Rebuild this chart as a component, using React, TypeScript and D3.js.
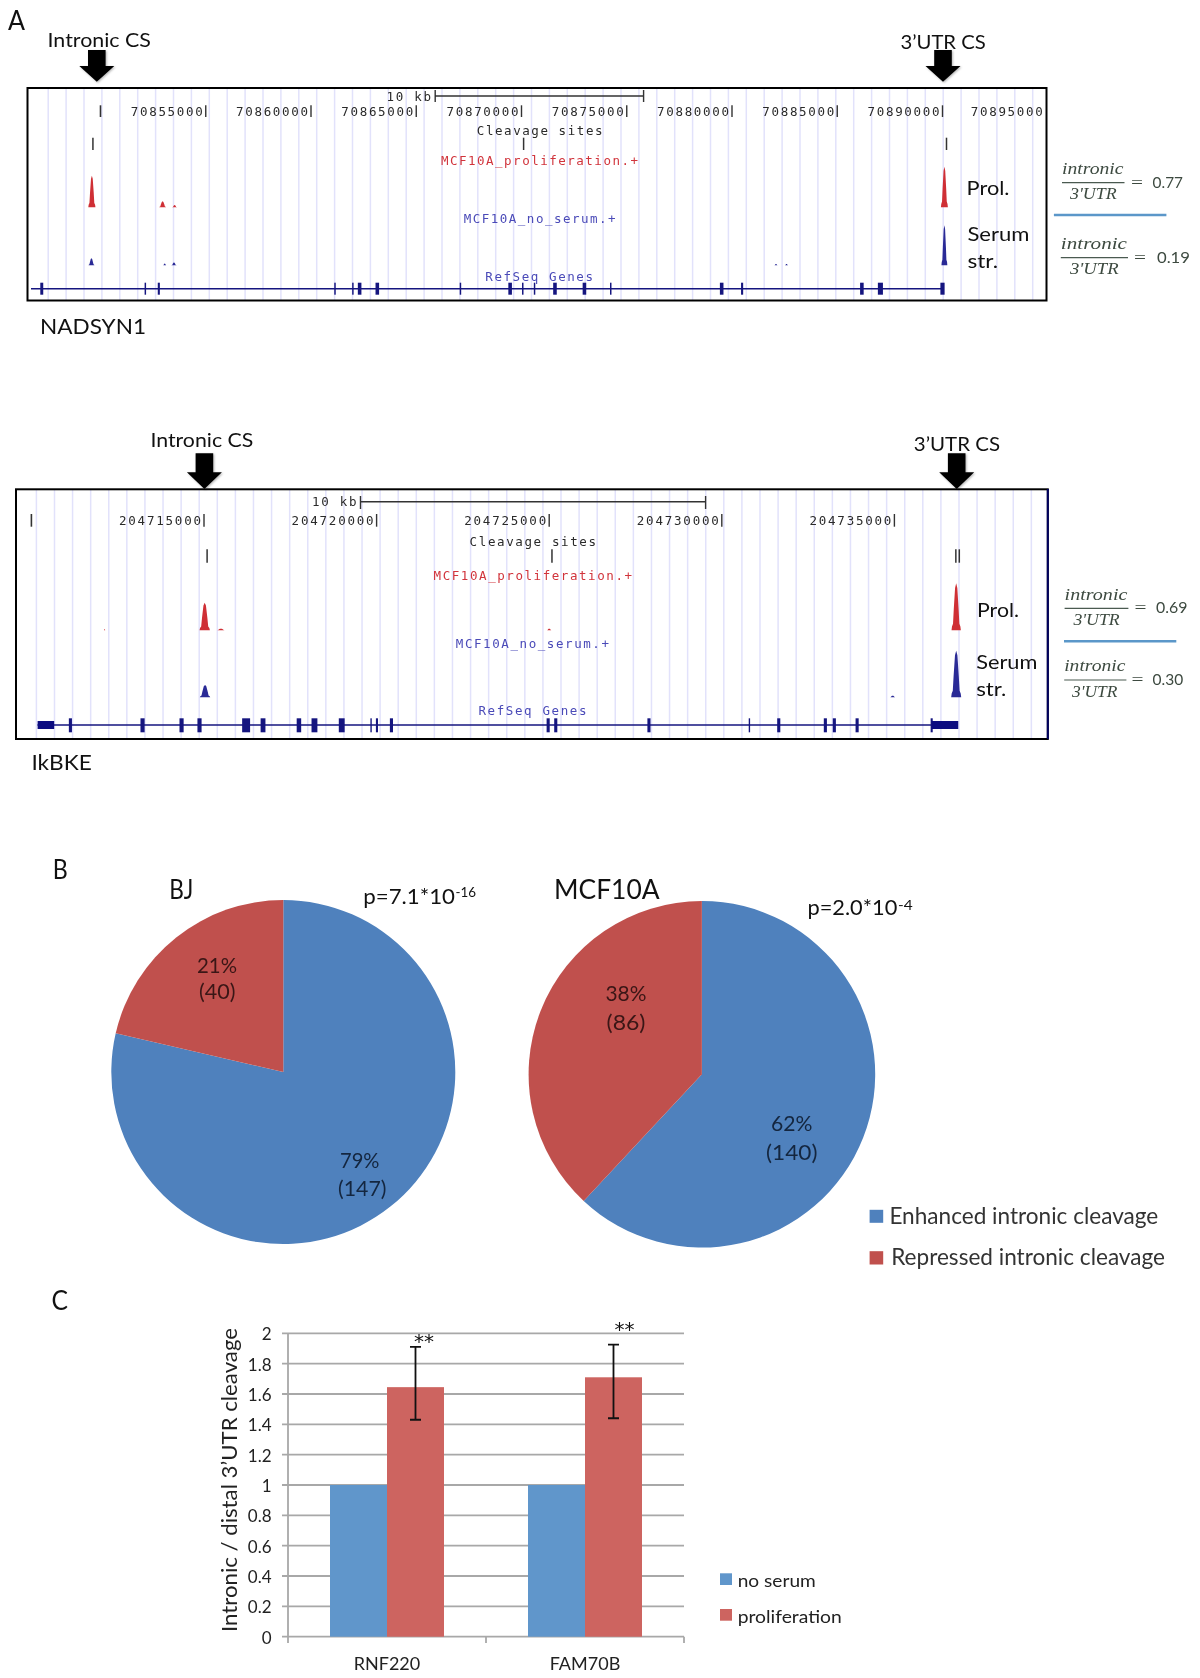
import React from "react";
import * as d3 from "d3";

// ---------- data: panel A (genomic offsets in kb from the first ruler tick) ----------
const nadBase = 70850000;
const nadTicks = [70855000, 70860000, 70865000, 70870000, 70875000, 70880000, 70885000, 70890000];
const nadLastLabel = 70895000;
const nadCleavage = [-0.36, 20.1, 40.19];
const nadExons: [number, number][] = [[-2.79, .14], [2.13, .07], [2.77, .1], [11.14, .07], [11.99, .07], [12.31, .17], [13.15, .17], [17.10, .07], [19.46, .17], [20.06, .07], [20.62, .07], [21.59, .17], [22.99, .17], [24.24, .07], [29.51, .17], [30.48, .1], [36.17, .17], [37.05, .24], [40.0, .2]];
const nadRed: [number, number, number][] = [[-0.41, 31.6, .34], [2.95, 6, .32], [3.52, 2.4, .22], [40.09, 40.6, .33]];
const nadBlue: [number, number, number][] = [[-0.43, 7, .28], [3.05, 1.8, .16], [3.49, 2.8, .24], [32.09, 1.4, .16], [32.59, 1.4, .16], [40.09, 40, .28]];

const ikkBase = 204710000;
const ikkTicks = [204715000, 204720000, 204725000, 204730000, 204735000];
const ikkCleavage = [5.09, 15.08, 26.78, 26.88];
const ikkExons: [number, number][] = [[1.13, .09], [3.22, .12], [4.35, .12], [4.87, .12], [6.22, .23], [6.71, .14], [7.75, .13], [8.20, .17], [8.99, .17], [9.84, .04], [10.01, .06], [10.43, .09], [14.97, .09], [15.19, .09], [17.89, .09], [20.80, .04], [21.65, .09], [23.0, .09], [23.26, .09], [23.92, .09], [26.08, .06]];
const ikkUtrs: [number, number][] = [[0.18, 0.66], [26.08, 26.85]];
const ikkRed: [number, number, number][] = [[5.02, 27.6, .3], [5.49, 1.6, .24], [2.12, 1.2, .05], [15.0, 1.6, .14], [26.79, 47, .27]];
const ikkBlue: [number, number, number][] = [[5.03, 12.3, .3], [24.95, 1.6, .16], [26.79, 46.6, .29]];
const peakProfile: [number, number][] = [[-.5, 0], [-.45, .08], [-.34, .14], [-.26, .45], [-.12, .9], [0, 1], [.12, .9], [.26, .45], [.34, .14], [.45, .08], [.5, 0]];

// ---------- data: panel B ----------
const pieLabels = ["Enhanced intronic cleavage", "Repressed intronic cleavage"];
const bjCounts = [147, 40];
const mcfCounts = [140, 86];

// ---------- data: panel C ----------
const genes = ["RNF220", "FAM70B"];
const conditions = ["no serum", "proliferation"];
const noSerum = [1, 1];
const proliferation = [1.645, 1.71];
const errLow = [1.43, 1.44];
const errHigh = [1.91, 1.925];
const yTickValues = [0, .2, .4, .6, .8, 1, 1.2, 1.4, 1.6, 1.8, 2];

// ---------- helpers ----------
const SANS = "Lato, 'Open Sans', sans-serif";
const MONO = "'DejaVu Sans Mono', monospace";
const SERIF = "'Liberation Serif', serif";
const GENE = "#15157f";

function T({ x1, x2, y, size = 20, fill = "#111", font = SANS, style, adj = "spacingAndGlyphs", children }: any) {
  return <text x={x1} y={y} fontFamily={font} fontSize={size} fill={fill} fontStyle={style}
    textLength={x2 - x1} lengthAdjust={adj}>{children}</text>;
}
function Mono({ x1, x2, cy, fill = "#2a2a2a", children }: any) {
  return <text x={x1} y={cy + 4.5} fontFamily={MONO} fontSize={12.5} fill={fill}
    textLength={x2 - x1} lengthAdjust="spacing">{children}</text>;
}
function Arrow({ cx, top, shoulder, tip }: any) {
  const pts: [number, number][] = [[cx - 8.8, top], [cx + 8.8, top], [cx + 8.8, shoulder], [cx + 17.5, shoulder], [cx, tip], [cx - 17.5, shoulder], [cx - 8.8, shoulder]];
  return <path d={d3.line()(pts) + "Z"} fill="#000" style={{ filter: "drop-shadow(1px 1px 1px rgba(0,0,0,.3))" }} />;
}
function Peaks({ data, x, base, fill }: any) {
  return <g>{data.map(([kb, h, w]: number[], i: number) => {
    const y = d3.scaleLinear().domain([0, 1]).range([base, base - h]);
    const xx = d3.scaleLinear().domain([-.5, .5]).range([x(kb - w / 2), x(kb + w / 2)]);
    const line = d3.line<[number, number]>().x(d => xx(d[0])).y(d => y(d[1]));
    return <path key={i} d={line(peakProfile) + "Z"} fill={fill} />;
  })}</g>;
}
function Fraction({ a, a2, la, b, b2, eqX, val, val2, y, children }: any) {
  const col = "#3d4a40";
  return <g>
    <T x1={a} x2={a2} y={y - 8.7} size={17} font={SERIF} style="italic" fill={col}>intronic</T>
    <line x1={la} x2={a2 + 1} y1={y} y2={y} stroke="#4a5a50" strokeWidth={1.2} />
    <T x1={b} x2={b2} y={y + 16.5} size={17} font={SERIF} style="italic" fill={col}>3'UTR</T>
    <T x1={eqX} x2={eqX + 12} y={y + 5} size={17} font={SERIF} fill={col}>=</T>
    <T x1={val} x2={val2} y={y + 5} size={16} fill={col}>{children}</T>
  </g>;
}

export default function App() {
  // Panel A, NADSYN1 browser view
  const nadX = d3.scaleLinear().domain([0, 45]).range([100.5, 1047.75]);
  const nadG = d3.range(56).map(i => 48.2 + i * 17.9);
  // Panel A, IkBKE browser view
  const ikkX = d3.scaleLinear().domain([0, 25]).range([31.4, 894.4]);
  const ikkG = d3.range(56).map(i => 36.4 + i * 18.09);

  // Panel B
  const pie = d3.pie<number>().sort(null).startAngle(0).endAngle(2 * Math.PI);
  const arc = d3.arc<d3.PieArcDatum<number>>().innerRadius(0).outerRadius(172);
  const pieColors = ["#4f81bd", "#c0504d"];

  // Panel C
  const y = d3.scaleLinear().domain([0, 2]).range([1636.7, 1333.3]);
  const x0 = d3.scaleBand().domain(genes).range([288, 684]);
  const x1 = d3.scaleBand().domain(conditions).range([0, x0.bandwidth()]).paddingInner(0).paddingOuter(.737);
  const barColors = ["#6096cb", "#cd6460"];

  return (
    <svg width={1200} height={1678} style={{ position: "absolute", left: 0, top: 0, background: "#fff" }}>
      <g style={{ filter: "blur(0.35px)" }}>
      <rect x={0} y={0} width={1200} height={1678} fill="#fff" />
      {/* ---------- A ---------- */}
      <T x1={8} x2={25} y={30} size={27}>A</T>

      {/* NADSYN1 */}
      <g>
        {nadG.map((g, i) => <line key={i} x1={g} x2={g} y1={89} y2={300} stroke="#e2e2fb" strokeWidth={1.5} />)}
        <line x1={nadX(0)} x2={nadX(0)} y1={105.3} y2={117} stroke="#333" strokeWidth={1.6} />
        {nadTicks.map(t => {
          const px = nadX((t - nadBase) / 1000);
          return <g key={t}>
            <line x1={px} x2={px} y1={105.3} y2={117} stroke="#333" strokeWidth={1.4} />
            <Mono x1={px - 75} x2={px - 3} cy={111.7}>{t}</Mono>
          </g>;
        })}
        <Mono x1={nadX((nadLastLabel - nadBase) / 1000) - 77} x2={nadX((nadLastLabel - nadBase) / 1000) - 5} cy={111.7}>{nadLastLabel}</Mono>
        <Mono x1={386.5} x2={431} cy={96}>10 kb</Mono>
        <path d={`M${nadX(15.9)},90V102M${nadX(15.9)},96H${nadX(25.8)}M${nadX(25.8)},90V102`} stroke="#333" strokeWidth={1.4} fill="none" />
        <Mono x1={476.8} x2={602.5} cy={130.7}>Cleavage sites</Mono>
        {nadCleavage.map(c => <line key={c} x1={nadX(c)} x2={nadX(c)} y1={137.7} y2={150} stroke="#333" strokeWidth={1.5} />)}
        <Mono x1={440.9} x2={638} cy={160.7} fill="#d1343c">MCF10A_proliferation.+</Mono>
        <Peaks data={nadRed} x={nadX} base={207.3} fill="#cf2f35" />
        <Mono x1={463.8} x2={615.5} cy={218.3} fill="#4a4ab8">MCF10A_no_serum.+</Mono>
        <Peaks data={nadBlue} x={nadX} base={265.3} fill="#2a2a96" />
        <Mono x1={485.3} x2={593} cy={276} fill="#4a4ab8">RefSeq Genes</Mono>
        <line x1={31} x2={943} y1={288.7} y2={288.7} stroke={GENE} strokeWidth={1.4} />
        {nadExons.map(([c, w], i) => <rect key={i} x={nadX(c - w / 2)} width={nadX(w) - nadX(0)} y={282.7} height={12} fill={GENE} />)}
        <rect x={27.5} y={88} width={1019} height={212.5} fill="none" stroke="#000" strokeWidth={2} />
      </g>
      <Arrow cx={96.8} top={50} shoulder={66} tip={81.7} />
      <Arrow cx={943} top={50} shoulder={66} tip={81.7} />
      <T x1={47.5} x2={151} y={46.7} size={20}>Intronic CS</T>
      <T x1={900.4} x2={985.8} y={49.3} size={20}>3’UTR CS</T>
      <T x1={40} x2={146} y={334} size={22}>NADSYN1</T>
      <T x1={966.6} x2={1009.5} y={195} size={20}>Prol.</T>
      <T x1={967.4} x2={1029.4} y={240.7} size={20}>Serum</T>
      <T x1={967.4} x2={998} y={267.7} size={20}>str.</T>
      <Fraction a={1062} a2={1123.5} la={1062} b={1070} b2={1116.6} eqX={1131} val={1152.6} val2={1183} y={182.7}>0.77</Fraction>
      <line x1={1053.9} x2={1166.4} y1={215} y2={215} stroke="#5b97c9" strokeWidth={2.6} />
      <Fraction a={1060.8} a2={1127} la={1060.8} b={1070} b2={1118.6} eqX={1134} val={1157} val2={1190} y={257.7}>0.19</Fraction>

      {/* IkBKE */}
      <g>
        {ikkG.map((g, i) => <line key={i} x1={g} x2={g} y1={490} y2={738} stroke="#e2e2fb" strokeWidth={1.5} />)}
        <line x1={ikkX(0)} x2={ikkX(0)} y1={514} y2={526.7} stroke="#333" strokeWidth={1.6} />
        {ikkTicks.map(t => {
          const px = ikkX((t - ikkBase) / 1000);
          return <g key={t}>
            <line x1={px} x2={px} y1={514} y2={526.7} stroke="#333" strokeWidth={1.4} />
            <Mono x1={px - 85} x2={px - 3} cy={520.3}>{t}</Mono>
          </g>;
        })}
        <Mono x1={311.9} x2={356.5} cy={501.7}>10 kb</Mono>
        <path d={`M360.5,496V509M360.5,501.7H705.6M705.6,496V509`} stroke="#333" strokeWidth={1.4} fill="none" />
        <Mono x1={469.6} x2={596} cy={541}>Cleavage sites</Mono>
        {ikkCleavage.map(c => <line key={c} x1={ikkX(c)} x2={ikkX(c)} y1={549.3} y2={562.7} stroke="#333" strokeWidth={1.5} />)}
        <Mono x1={433.6} x2={632} cy={575.7} fill="#d1343c">MCF10A_proliferation.+</Mono>
        <Peaks data={ikkRed} x={ikkX} base={630.3} fill="#cf2f35" />
        <Mono x1={455.8} x2={609} cy={643.3} fill="#4a4ab8">MCF10A_no_serum.+</Mono>
        <Peaks data={ikkBlue} x={ikkX} base={697.3} fill="#2a2a96" />
        <Mono x1={478.4} x2={586.5} cy={710.3} fill="#4a4ab8">RefSeq Genes</Mono>
        <line x1={37.5} x2={950} y1={725} y2={725} stroke={GENE} strokeWidth={1.4} />
        {ikkExons.map(([c, w], i) => <rect key={i} x={ikkX(c - w / 2)} width={ikkX(w) - ikkX(0)} y={718.3} height={14} fill={GENE} />)}
        {ikkUtrs.map(([a, b], i) => <rect key={i} x={ikkX(a)} width={ikkX(b) - ikkX(a)} y={721} height={8} fill="#0b0b80" />)}
        <rect x={16} y={489.3} width={1031.8} height={249.7} fill="none" stroke="#000" strokeWidth={2} />
        <line x1={1047.8} x2={1047.8} y1={489} y2={739} stroke="#000060" strokeWidth={2} />
      </g>
      <Arrow cx={204.4} top={453.3} shoulder={472.3} tip={489} />
      <Arrow cx={956.7} top={453.3} shoulder={472.3} tip={489} />
      <T x1={150.4} x2={253.3} y={446.7} size={20}>Intronic CS</T>
      <T x1={913.8} x2={1000} y={451} size={20}>3’UTR CS</T>
      <T x1={31.4} x2={91.8} y={770} size={22}>IkBKE</T>
      <T x1={977} x2={1019} y={616.7} size={20}>Prol.</T>
      <T x1={976.2} x2={1037.4} y={669} size={20}>Serum</T>
      <T x1={976.2} x2={1006.4} y={696} size={20}>str.</T>
      <Fraction a={1064.6} a2={1127.4} la={1064.6} b={1073.4} b2={1119.7} eqX={1134.5} val={1156} val2={1187.4} y={608.3}>0.69</Fraction>
      <line x1={1064} x2={1176.3} y1={641.3} y2={641.3} stroke="#5b97c9" strokeWidth={2.6} />
      <Fraction a={1064.2} a2={1125.4} la={1064.2} b={1072} b2={1117.4} eqX={1131.5} val={1152.6} val2={1183.2} y={680}>0.30</Fraction>

      {/* ---------- B ---------- */}
      <T x1={52.7} x2={67.7} y={878.5} size={26}>B</T>
      <T x1={169.3} x2={193.3} y={899.3} size={26}>BJ</T>
      <T x1={363.3} x2={455} y={904.3} size={21}>p=7.1*10</T>
      <T x1={455.5} x2={476} y={897} size={14}>-16</T>
      <g transform="translate(283.3,1072)">
        {pie(bjCounts).map((d, i) => <path key={i} d={arc(d)!} fill={pieColors[i]} />)}
      </g>
      <T x1={197} x2={237} y={973} size={21} fill="#3a1616">21%</T>
      <T x1={199} x2={235.5} y={999} size={21} fill="#3a1616">({bjCounts[1]})</T>
      <T x1={340} x2={379.5} y={1168.3} size={21} fill="#14263f">79%</T>
      <T x1={338} x2={386.5} y={1196} size={21} fill="#14263f">({bjCounts[0]})</T>

      <T x1={554} x2={659.6} y={899.3} size={26}>MCF10A</T>
      <T x1={807.5} x2={897.3} y={915} size={21}>p=2.0*10</T>
      <T x1={898} x2={912.7} y={910} size={14}>-4</T>
      <g transform="translate(701.9,1074.3)">
        {pie(mcfCounts).map((d, i) => <path key={i} d={d3.arc<d3.PieArcDatum<number>>().innerRadius(0).outerRadius(173.3)(d)!} fill={pieColors[i]} />)}
      </g>
      <T x1={605.5} x2={646.5} y={1000.5} size={21} fill="#3a1616">38%</T>
      <T x1={606.5} x2={645.5} y={1029.5} size={21} fill="#3a1616">({mcfCounts[1]})</T>
      <T x1={771} x2={812.5} y={1131} size={21} fill="#14263f">62%</T>
      <T x1={766} x2={817.5} y={1160} size={21} fill="#14263f">({mcfCounts[0]})</T>
      <rect x={869.6} y={1209.8} width={13.6} height={13} fill={pieColors[0]} />
      <T x1={889.4} x2={1158.3} y={1224.3} size={23} fill="#333">{pieLabels[0]}</T>
      <rect x={869.6} y={1251.2} width={13.6} height={13.3} fill={pieColors[1]} />
      <T x1={891.2} x2={1165} y={1265} size={23} fill="#333">{pieLabels[1]}</T>

      {/* ---------- C ---------- */}
      <T x1={51.5} x2={68} y={1310} size={26}>C</T>
      <g>
        {yTickValues.map(t => <line key={t} x1={282} x2={684} y1={y(t)} y2={y(t)} stroke="#a8a8a8" strokeWidth={1.8} />)}
        <line x1={288} x2={288} y1={y(2)} y2={y(0)} stroke="#a8a8a8" strokeWidth={1.8} />
        {[0, 1, 2].map(i => { const px = 288 + i * x0.step(); return <line key={i} x1={px} x2={px} y1={y(0)} y2={1643} stroke="#a8a8a8" strokeWidth={1.8} />; })}
        {genes.map((g, i) => <g key={g}>
          <rect x={x0(g)! + x1(conditions[0])!} width={x1.bandwidth()} y={y(noSerum[i])} height={y(0) - y(noSerum[i])} fill={barColors[0]} />
          <rect x={x0(g)! + x1(conditions[1])!} width={x1.bandwidth()} y={y(proliferation[i])} height={y(0) - y(proliferation[i])} fill={barColors[1]} />
        </g>)}
        {genes.map((g, i) => {
          const cx = x0(g)! + x1(conditions[1])! + x1.bandwidth() / 2;
          return <path key={g} d={`M${cx - 5.5},${y(errHigh[i])}H${cx + 5.5}M${cx},${y(errHigh[i])}V${y(errLow[i])}M${cx - 5.5},${y(errLow[i])}H${cx + 5.5}`} stroke="#111" strokeWidth={1.8} fill="none" />;
        })}
        {yTickValues.map(t => <text key={t} x={271.5} y={y(t) + 7} textAnchor="end" fontFamily={SANS} fontSize={17} fill="#222">{t}</text>)}
        {genes.map(g => <text key={g} x={x0(g)! + x0.bandwidth() / 2} y={1670} textAnchor="middle" fontFamily={SANS} fontSize={18} fill="#222">{g}</text>)}
        <text x={424} y={1348} textAnchor="middle" fontFamily="'DejaVu Sans'" fontSize={20} fill="#111">**</text>
        <text x={624.5} y={1335.5} textAnchor="middle" fontFamily="'DejaVu Sans'" fontSize={20} fill="#111">**</text>
        <text transform="translate(236.5,1632) rotate(-90)" fontFamily={SANS} fontSize={22} fill="#222" textLength={304} lengthAdjust="spacingAndGlyphs">Intronic / distal 3’UTR cleavage</text>
        <rect x={720} y={1573.3} width={12} height={11.7} fill={barColors[0]} />
        <T x1={737.7} x2={815.8} y={1586.7} size={18} fill="#222">{conditions[0]}</T>
        <rect x={720} y={1609} width={12} height={11.7} fill={barColors[1]} />
        <T x1={737.7} x2={841.8} y={1622.7} size={18} fill="#222">{conditions[1]}</T>
      </g>
      </g>
    </svg>
  );
}
